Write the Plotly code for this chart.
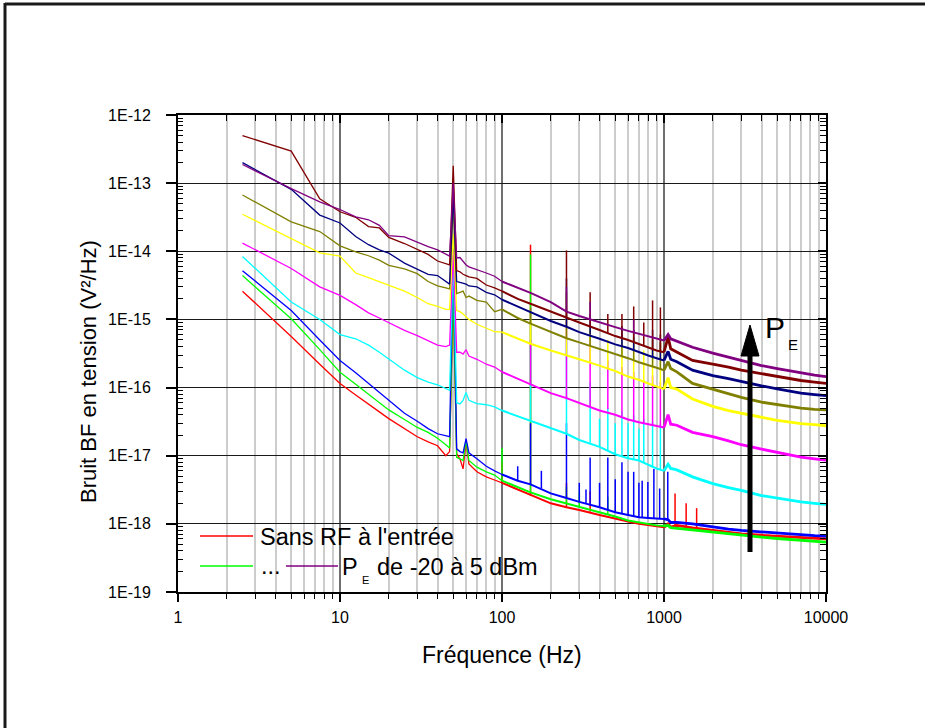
import plotly.graph_objects as go

# ---------------- data ----------------
FREQ = [2.5, 5, 7.5, 10, 12.5, 15, 17.5, 20,
        25, 30, 35, 40, 45, 47.5, 50, 52.5,
        55, 57.5, 60, 62.5, 70, 80, 90, 100,
        125, 150, 200, 250, 300, 400, 500, 600,
        700, 800, 900, 1000, 1060, 1100, 1200, 1500,
        2000, 2500, 3000, 4000, 5000, 6000, 7000, 8500,
        10000]

RED = [2.6e-15, 5.6e-16, 2.2e-16, 1.15e-16, 7.8e-17, 5.8e-17, 4.4e-17, 3.5e-17,
       2.5e-17, 1.9e-17, 1.6e-17, 1.4e-17, 1.0e-17, 1.15e-17, 2.0e-15, 1.07e-17,
       9.0e-18, 6.4e-18, 1.58e-17, 7.6e-18, 5.8e-18, 4.9e-18, 4.4e-18, 4.0e-18,
       3.2e-18, 2.6e-18, 2.0e-18, 1.75e-18, 1.6e-18, 1.35e-18, 1.18e-18, 1.08e-18,
       1.0e-18, 9.5e-19, 9.2e-19, 8.9e-19, 1.0e-18, 9.0e-19, 9.5e-19, 8.7e-19,
       8.0e-19, 7.5e-19, 7.1e-19, 6.8e-19, 6.6e-19, 6.4e-19, 6.2e-19, 6.1e-19,
       6.0e-19]
GREEN = [4.4e-15, 1.02e-15, 3.6e-16, 1.68e-16, 1.12e-16, 8.0e-17, 6.0e-17, 4.7e-17,
         3.4e-17, 2.6e-17, 2.2e-17, 1.8e-17, 1.45e-17, 1.3e-17, 3.0e-15, 9.5e-18,
         9.0e-18, 8.5e-18, 1.66e-17, 8.5e-18, 6.8e-18, 5.8e-18, 5.2e-18, 4.3e-18,
         3.5e-18, 2.9e-18, 2.3e-18, 2.0e-18, 1.75e-18, 1.5e-18, 1.28e-18, 1.12e-18,
         1.05e-18, 9.8e-19, 9.5e-19, 9.3e-19, 9.5e-19, 8.8e-19, 8.6e-19, 8.2e-19,
         7.6e-19, 7.1e-19, 6.8e-19, 6.4e-19, 6.1e-19, 5.9e-19, 5.7e-19, 5.6e-19,
         5.4e-19]
BLUE = [5.2e-15, 1.35e-15, 5.0e-16, 2.5e-16, 1.65e-16, 1.15e-16, 8.5e-17, 6.5e-17,
        4.2e-17, 3.2e-17, 2.5e-17, 2.1e-17, 1.95e-17, 1.9e-17, 1.2e-14, 1.26e-17,
        1.15e-17, 1.1e-17, 1.78e-17, 1.1e-17, 9.0e-18, 7.0e-18, 6.0e-18, 5.3e-18,
        4.3e-18, 3.8e-18, 2.8e-18, 2.4e-18, 2.1e-18, 1.75e-18, 1.48e-18, 1.35e-18,
        1.25e-18, 1.22e-18, 1.2e-18, 1.18e-18, 1.15e-18, 1.05e-18, 1.05e-18, 1.0e-18,
        9.0e-19, 8.4e-19, 8.0e-19, 7.6e-19, 7.2e-19, 7.0e-19, 6.8e-19, 6.7e-19,
        6.6e-19]
CYAN = [8.4e-15, 1.8e-15, 1.0e-15, 6.0e-16, 5.2e-16, 4.2e-16, 3.3e-16, 2.6e-16,
        1.8e-16, 1.4e-16, 1.2e-16, 1.1e-16, 9.5e-17, 9.1e-17, 8.0e-15, 6.0e-17,
        5.75e-17, 6.5e-17, 8.5e-17, 6.5e-17, 5.8e-17, 5.6e-17, 5.2e-17, 4.6e-17,
        3.8e-17, 3.2e-17, 2.5e-17, 2.1e-17, 1.7e-17, 1.35e-17, 1.05e-17, 9.2e-18,
        8.5e-18, 7.3e-18, 6.5e-18, 6.0e-18, 7.5e-18, 6.5e-18, 6.2e-18, 4.9e-18,
        3.9e-18, 3.4e-18, 3.1e-18, 2.6e-18, 2.4e-18, 2.2e-18, 2.1e-18, 2.0e-18,
        1.93e-18]
MAGENTA = [1.32e-14, 5.6e-15, 3.0e-15, 2.25e-15, 1.65e-15, 1.25e-15, 1.05e-15, 9.0e-16,
           6.9e-16, 5.8e-16, 4.9e-16, 4.2e-16, 4.0e-16, 4.2e-16, 1.0e-14, 3.3e-16,
           3.3e-16, 3.1e-16, 3.6e-16, 2.9e-16, 2.6e-16, 2.2e-16, 2.0e-16, 1.7e-16,
           1.35e-16, 1.12e-16, 8.3e-17, 7.0e-17, 6.0e-17, 4.6e-17, 4.0e-17, 3.4e-17,
           3.1e-17, 2.9e-17, 2.7e-17, 2.6e-17, 4.0e-17, 2.9e-17, 2.8e-17, 2.2e-17,
           1.9e-17, 1.65e-17, 1.45e-17, 1.25e-17, 1.12e-17, 1.0e-17, 9.5e-18, 9.0e-18,
           8.6e-18]
YELLOW = [3.5e-14, 1.55e-14, 9.5e-15, 8.5e-15, 4.8e-15, 4.1e-15, 3.6e-15, 3.2e-15,
          2.6e-15, 2.1e-15, 1.7e-15, 1.55e-15, 1.4e-15, 1.4e-15, 1.8e-14, 1.35e-15,
          1.3e-15, 1.2e-15, 1.1e-15, 1.0e-15, 8.5e-16, 7.4e-16, 6.6e-16, 6.5e-16,
          5.2e-16, 4.4e-16, 3.5e-16, 3.0e-16, 2.6e-16, 2.1e-16, 1.75e-16, 1.45e-16,
          1.3e-16, 1.15e-16, 1.05e-16, 9.5e-17, 1.4e-16, 1.0e-16, 9.5e-17, 6.8e-17,
          5.3e-17, 4.6e-17, 4.2e-17, 3.6e-17, 3.3e-17, 3.1e-17, 2.95e-17, 2.85e-17,
          2.75e-17]
OLIVE = [6.7e-14, 2.7e-14, 1.95e-14, 1.2e-14, 9.8e-15, 8.6e-15, 7.4e-15, 6.2e-15,
         5.5e-15, 4.7e-15, 3.6e-15, 3.1e-15, 2.9e-15, 2.8e-15, 5.0e-14, 2.4e-15,
         2.5e-15, 2.6e-15, 2.1e-15, 2.2e-15, 1.9e-15, 1.8e-15, 1.3e-15, 1.4e-15,
         1.05e-15, 8.7e-16, 6.5e-16, 5.3e-16, 4.6e-16, 3.7e-16, 3.1e-16, 2.7e-16,
         2.35e-16, 2.1e-16, 1.95e-16, 1.8e-16, 2.4e-16, 1.9e-16, 1.7e-16, 1.15e-16,
         9.5e-17, 8.0e-17, 7.2e-17, 6.1e-17, 5.6e-17, 5.2e-17, 5.0e-17, 4.8e-17,
         4.7e-17]
NAVY = [2.0e-13, 8.1e-14, 3.4e-14, 2.6e-14, 1.65e-14, 1.25e-14, 1.05e-14, 9.4e-15,
        6.7e-15, 5.5e-15, 4.6e-15, 4.4e-15, 3.6e-15, 3.3e-15, 7.0e-14, 3.6e-15,
        3.5e-15, 3.4e-15, 3.3e-15, 3.1e-15, 3.0e-15, 2.5e-15, 2.3e-15, 1.95e-15,
        1.55e-15, 1.3e-15, 9.5e-16, 7.8e-16, 6.5e-16, 5.2e-16, 4.3e-16, 3.8e-16,
        3.3e-16, 2.95e-16, 2.7e-16, 2.5e-16, 3.4e-16, 2.6e-16, 2.4e-16, 1.8e-16,
        1.5e-16, 1.35e-16, 1.22e-16, 1.06e-16, 9.6e-17, 8.8e-17, 8.3e-17, 7.9e-17,
        7.6e-17]
MAROON = [5.0e-13, 2.95e-13, 5.9e-14, 3.8e-14, 3.15e-14, 2.3e-14, 2.2e-14, 1.6e-14,
          1.3e-14, 1.05e-14, 9.0e-15, 7.2e-15, 6.5e-15, 6.3e-15, 1.8e-13, 5.2e-15,
          5.0e-15, 4.6e-15, 4.4e-15, 4.2e-15, 4.0e-15, 3.2e-15, 2.9e-15, 2.6e-15,
          2.0e-15, 1.7e-15, 1.3e-15, 1.05e-15, 9.0e-16, 7.0e-16, 5.7e-16, 5.0e-16,
          4.4e-16, 3.9e-16, 3.5e-16, 3.3e-16, 5.5e-16, 3.7e-16, 3.3e-16, 2.5e-16,
          2.2e-16, 2.0e-16, 1.8e-16, 1.6e-16, 1.45e-16, 1.35e-16, 1.27e-16, 1.2e-16,
          1.15e-16]
PURPLE = [1.88e-13, 8.3e-14, 5.3e-14, 4.1e-14, 3.2e-14, 2.9e-14, 2.4e-14, 1.7e-14,
          1.63e-14, 1.35e-14, 1.17e-14, 1.05e-14, 9.0e-15, 8.5e-15, 1.0e-13, 8.0e-15,
          8.1e-15, 7.0e-15, 6.3e-15, 5.9e-15, 5.4e-15, 4.8e-15, 4.3e-15, 3.6e-15,
          2.9e-15, 2.45e-15, 1.8e-15, 1.3e-15, 1.12e-15, 9.0e-16, 7.7e-16, 6.8e-16,
          6.2e-16, 5.6e-16, 5.2e-16, 4.9e-16, 6.0e-16, 5.2e-16, 4.8e-16, 3.9e-16,
          3.2e-16, 2.8e-16, 2.5e-16, 2.1e-16, 1.9e-16, 1.75e-16, 1.62e-16, 1.52e-16,
          1.45e-16]

# narrow harmonic spikes: (frequency, local floor, peak)
SPK_RED = [(100, 4.0e-18, 8e-18), (150, 2.6e-18, 1.25e-14), (250, 1.75e-18, 4e-18),
           (350, 1.5e-18, 3e-18), (1170, 9e-19, 2.8e-18), (1370, 9e-19, 2.0e-18),
           (1590, 8.7e-19, 1.7e-18)]
SPK_GREEN = [(100, 4.3e-18, 1.3e-17), (150, 2.9e-18, 9e-15), (250, 2.0e-18, 3.5e-18),
             (300, 1.75e-18, 3e-18), (450, 1.4e-18, 2.5e-18)]
SPK_BLUE = [(125, 4.3e-18, 7e-18), (150, 3.8e-18, 3e-17), (175, 3.3e-18, 6e-18),
            (250, 2.4e-18, 3e-17), (300, 2.1e-18, 4e-18), (330, 2.0e-18, 3.2e-18),
            (350, 1.95e-18, 9.4e-18), (400, 1.75e-18, 4e-18), (450, 1.6e-18, 9.4e-18),
            (500, 1.48e-18, 4.5e-18), (550, 1.42e-18, 8e-18), (600, 1.35e-18, 5.8e-18),
            (650, 1.3e-18, 5.8e-18), (700, 1.25e-18, 4e-18), (733, 1.25e-18, 4.3e-18),
            (795, 1.22e-18, 4.1e-18), (866, 1.2e-18, 6.4e-18), (940, 1.2e-18, 3.3e-18),
            (1055, 1.15e-18, 5.8e-18)]
SPK_CYAN = [(150, 3.2e-17, 4e-16), (250, 2.1e-17, 5e-16), (350, 1.55e-17, 1.2e-16),
            (400, 1.35e-17, 3.5e-17), (450, 1.2e-17, 5e-17), (500, 1.05e-17, 3e-17),
            (550, 1.0e-17, 4.5e-17), (600, 9.2e-18, 3e-17), (650, 8.8e-18, 4e-17),
            (700, 8.5e-18, 2.5e-17), (750, 8.0e-18, 3.5e-17), (850, 7.0e-18, 3.2e-17),
            (950, 6.3e-18, 3e-17)]
SPK_MAGENTA = [(150, 1.12e-16, 5e-16), (250, 7e-17, 1.5e-15), (350, 5.3e-17, 5e-16),
               (450, 4.8e-17, 2.5e-16), (550, 3.8e-17, 2e-16), (650, 3.3e-17, 1.7e-16),
               (750, 3.0e-17, 1.2e-16), (850, 2.8e-17, 1.5e-16), (950, 2.65e-17, 1.2e-16)]
SPK_YELLOW = [(150, 4.4e-16, 1e-15), (250, 3e-16, 2e-15), (350, 2.3e-16, 8e-16),
              (450, 1.95e-16, 5e-16), (550, 1.6e-16, 4.5e-16), (650, 1.38e-16, 5e-16),
              (750, 1.22e-16, 3.5e-16), (850, 1.1e-16, 4e-16), (950, 1.0e-16, 6e-16)]
SPK_OLIVE = [(150, 8.7e-16, 1.5e-15), (250, 5.3e-16, 2.5e-15), (350, 4.2e-16, 8e-16),
             (550, 2.9e-16, 6e-16), (650, 2.5e-16, 5.5e-16), (850, 2.0e-16, 5e-16),
             (950, 1.9e-16, 4.5e-16)]
SPK_NAVY = [(250, 7.8e-16, 4e-15), (350, 6e-16, 1.2e-15), (550, 4.1e-16, 8e-16),
            (650, 3.6e-16, 7e-16), (850, 2.8e-16, 7e-16), (950, 2.6e-16, 6e-16)]
SPK_MAROON = [(250, 1.05e-15, 1.03e-14), (350, 8e-16, 2.5e-15), (450, 6.3e-16, 1.2e-15),
              (550, 5.5e-16, 1.2e-15), (650, 4.8e-16, 1.55e-15), (750, 4.2e-16, 9e-16),
              (850, 3.7e-16, 1.9e-15), (950, 3.4e-16, 1.5e-15)]
SPK_PURPLE = [(250, 1.3e-15, 3e-15), (350, 1.0e-15, 1.8e-15), (650, 6.5e-16, 1.0e-15)]

SERIES = [
    ("red", RED, SPK_RED, "#FF0000"),
    ("green", GREEN, SPK_GREEN, "#00FF00"),
    ("blue", BLUE, SPK_BLUE, "#0000FF"),
    ("cyan", CYAN, SPK_CYAN, "#00FFFF"),
    ("magenta", MAGENTA, SPK_MAGENTA, "#FF00FF"),
    ("yellow", YELLOW, SPK_YELLOW, "#FFFF00"),
    ("olive", OLIVE, SPK_OLIVE, "#808000"),
    ("navy", NAVY, SPK_NAVY, "#000080"),
    ("maroon", MAROON, SPK_MAROON, "#800000"),
    ("purple", PURPLE, SPK_PURPLE, "#800080"),
]

X_TICKS = [1, 10, 100, 1000, 10000]
X_TICKTEXT = ["1", "10", "100", "1000", "10000"]
Y_TICKS = [1e-19, 1e-18, 1e-17, 1e-16, 1e-15, 1e-14, 1e-13, 1e-12]
Y_TICKTEXT = ["1E-19", "1E-18", "1E-17", "1E-16", "1E-15", "1E-14", "1E-13", "1E-12"]

# ---------------- layout geometry ----------------
W, H = 925, 728
L, R, T, B = 178, 826, 115, 592
FONT = "Liberation Sans, Arial, sans-serif"


def px(xp):
    return (xp - L) / (R - L)


def py(yp):
    return (B - yp) / (B - T)


x_minor = [m * 10 ** k for k in range(0, 4) for m in range(2, 10)]
y_minor = [m * 10.0 ** k for k in range(-19, -12) for m in range(2, 10)]

fig = go.Figure()

# split points (style only: the dense noisy parts look thicker)
i100 = FREQ.index(100)
i1000 = FREQ.index(1000)
segments = [(0, i100 + 1, 1.3), (i100, i1000 + 1, 2.0), (i1000, len(FREQ), 2.8)]

for name, vals, spikes, color in SERIES:
    for a, b, w in segments:
        fig.add_trace(go.Scatter(x=FREQ[a:b], y=vals[a:b], mode="lines",
                                 line=dict(color=color, width=w),
                                 showlegend=False, hoverinfo="skip"))
    sx, sy = [], []
    for f, lo, hi in spikes:
        sx += [f, f, None]
        sy += [lo, hi, None]
    fig.add_trace(go.Scatter(x=sx, y=sy, mode="lines",
                             line=dict(color=color, width=1.5),
                             showlegend=False, hoverinfo="skip"))

# dummy trace for the mirrored (top/right) axes
fig.add_trace(go.Scatter(x=[10], y=[1e-15], xaxis="x2", yaxis="y2", mode="markers",
                         marker=dict(opacity=0), showlegend=False, hoverinfo="skip"))

tickfont = dict(family=FONT, size=16, color="black")

fig.update_layout(
    width=W, height=H,
    margin=dict(l=L, r=W - R, t=T, b=H - B),
    paper_bgcolor="white", plot_bgcolor="white",
    showlegend=False,
    xaxis=dict(type="log", range=[0, 4], tickmode="array", tickvals=X_TICKS,
               ticktext=X_TICKTEXT, tickfont=tickfont,
               showline=True, linecolor="black", linewidth=2,
               ticks="outside", ticklen=8, tickwidth=1.5, tickcolor="black",
               ticklabelstandoff=2,
               showgrid=True, gridcolor="#707070", gridwidth=1.6,
               minor=dict(tickmode="array", tickvals=x_minor, ticks="outside",
                          ticklen=5, tickwidth=1.3, tickcolor="black",
                          showgrid=True, gridcolor="#cccccc", gridwidth=1.6),
               zeroline=False),
    yaxis=dict(type="log", range=[-19, -12], tickmode="array", tickvals=Y_TICKS,
               ticktext=Y_TICKTEXT, tickfont=tickfont,
               showline=True, linecolor="black", linewidth=2,
               ticks="outside", ticklen=10, tickwidth=1.5, tickcolor="black",
               ticklabelstandoff=12,
               showgrid=True, gridcolor="#1a1a1a", gridwidth=1.4,
               minor=dict(tickmode="array", tickvals=y_minor, ticks="inside",
                          ticklen=5, tickwidth=1.3, tickcolor="black", showgrid=False),
               zeroline=False),
    xaxis2=dict(type="log", range=[0, 4], overlaying="x", side="top",
                tickmode="array", tickvals=X_TICKS, showticklabels=False,
                showline=True, linecolor="black", linewidth=2,
                ticks="inside", ticklen=8, tickwidth=1.5, tickcolor="black",
                showgrid=False, zeroline=False,
                minor=dict(tickmode="array", tickvals=x_minor, ticks="inside",
                           ticklen=6, tickwidth=1.3, tickcolor="black", showgrid=False)),
    yaxis2=dict(type="log", range=[-19, -12], overlaying="y", side="right",
                tickmode="array", tickvals=Y_TICKS, showticklabels=False,
                showline=True, linecolor="black", linewidth=2,
                ticks="inside", ticklen=8, tickwidth=1.5, tickcolor="black",
                showgrid=False, zeroline=False,
                minor=dict(tickmode="array", tickvals=y_minor, ticks="inside",
                           ticklen=6, tickwidth=1.3, tickcolor="black", showgrid=False)),
)

shapes = []
# outer frame (top and left edges visible)
shapes.append(dict(type="line", xref="paper", yref="paper", x0=px(5), x1=px(940),
                   y0=py(4), y1=py(4), line=dict(color="#1a1a1a", width=3)))
shapes.append(dict(type="line", xref="paper", yref="paper", x0=px(5), x1=px(5),
                   y0=py(3), y1=py(740), line=dict(color="#1a1a1a", width=3)))
# legend line samples
shapes.append(dict(type="line", xref="paper", yref="paper", x0=px(200), x1=px(253),
                   y0=py(536), y1=py(536), line=dict(color="#FF0000", width=1.3)))
shapes.append(dict(type="line", xref="paper", yref="paper", x0=px(200), x1=px(253),
                   y0=py(566), y1=py(566), line=dict(color="#00FF00", width=1.3)))
shapes.append(dict(type="line", xref="paper", yref="paper", x0=px(286), x1=px(338),
                   y0=py(566), y1=py(566), line=dict(color="#800080", width=1.3)))
# power arrow
shapes.append(dict(type="line", xref="paper", yref="paper", x0=px(750), x1=px(750),
                   y0=py(552), y1=py(345), line=dict(color="black", width=5)))
shapes.append(dict(type="path", xref="paper", yref="paper",
                   path="M {} {} L {} {} L {} {} Z".format(px(750), py(325), px(741), py(356),
                                                            px(759), py(356)),
                   fillcolor="black", line=dict(color="black", width=1)))
fig.update_layout(shapes=shapes)


def txt(x, y, s, size, xanchor="left", angle=0):
    return dict(xref="paper", yref="paper", x=px(x), y=py(y), text=s, showarrow=False,
                xanchor=xanchor, yanchor="middle", textangle=angle,
                font=dict(family=FONT, size=size, color="black"))


fig.update_layout(annotations=[
    txt(502, 655, "Fréquence (Hz)", 23, "center"),
    txt(88, 372, "Bruit BF en tension (V²/Hz)", 22, "center", -90),
    txt(258, 537, "Sans RF à l'entrée", 23.5),
    txt(259, 566, "...", 23.5),
    txt(340, 567, "P", 23.5),
    txt(360, 580, "E", 11),
    txt(375, 567, "de -20 à 5 dBm", 23.5),
    txt(763, 327, "P", 30),
    txt(786, 344, "E", 15),
])

fig.write_html("out.html", config={"displayModeBar": False},
               post_script="document.body.style.margin='0';")
